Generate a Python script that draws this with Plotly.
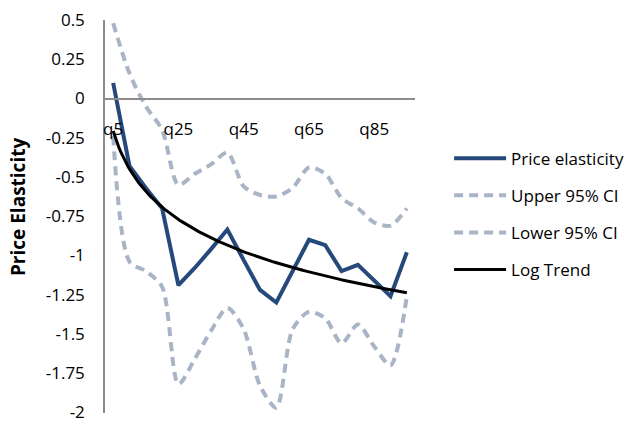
import numpy as np
import plotly.graph_objects as go

# Quantile categories along the x axis
quantiles = ["q5", "q10", "q15", "q20", "q25", "q30", "q35", "q40", "q45", "q50",
             "q55", "q60", "q65", "q70", "q75", "q80", "q85", "q90", "q95"]

# Estimated price elasticity per quantile and its 95% confidence bounds
price_elasticity = [0.10, -0.43, -0.57, -0.70, -1.19, -1.08, -0.96, -0.835, -1.03, -1.22,
                    -1.30, -1.10, -0.90, -0.935, -1.10, -1.06, -1.16, -1.26, -0.98]
upper_ci = [0.48, 0.16, -0.05, -0.20, -0.55, -0.48, -0.42, -0.345, -0.56, -0.615,
            -0.625, -0.57, -0.44, -0.48, -0.635, -0.70, -0.79, -0.81, -0.70]
lower_ci = [-0.24, -1.04, -1.10, -1.20, -1.82, -1.66, -1.48, -1.335, -1.47, -1.83,
            -1.97, -1.47, -1.36, -1.40, -1.56, -1.44, -1.58, -1.70, -1.26]

# Axis ticks
x_tick_labels = ["q5", "q25", "q45", "q65", "q85"]
y_tick_values = [0.5, 0.25, 0, -0.25, -0.5, -0.75, -1, -1.25, -1.5, -1.75, -2]
y_tick_labels = ["0.5", "0.25", "0", "-0.25", "-0.5", "-0.75", "-1", "-1.25", "-1.5", "-1.75", "-2"]

FONT = "Open Sans"
BLUE = "#24497A"
CI_GREY = "#A9B5C6"

pos = np.arange(1, len(quantiles) + 1)
x_tick_pos = [quantiles.index(q) + 1 for q in x_tick_labels]

# Logarithmic trend: least-squares fit of elasticity on ln(position)
slope, intercept = np.polyfit(np.log(pos), price_elasticity, 1)
trend_x = np.linspace(1, len(quantiles), 200)
trend_y = slope * np.log(trend_x) + intercept

ci_line = dict(color=CI_GREY, width=4, dash="9px,6px", shape="spline", smoothing=0.8)

fig = go.Figure()
fig.add_trace(go.Scatter(x=pos, y=price_elasticity, mode="lines", name="Price elasticity",
                         line=dict(color=BLUE, width=4), legendgroup="a"))
fig.add_trace(go.Scatter(x=pos, y=upper_ci, mode="lines", name="Upper 95% CI",
                         line=ci_line, legendgroup="b"))
fig.add_trace(go.Scatter(x=pos, y=lower_ci, mode="lines", name="Lower 95% CI",
                         line=ci_line, legendgroup="c"))
fig.add_trace(go.Scatter(x=trend_x, y=trend_y, mode="lines", name="Log Trend",
                         line=dict(color="black", width=3), legendgroup="d"))

fig.update_layout(
    width=629, height=423,
    margin=dict(l=105, r=214, t=20, b=10, autoexpand=False),
    paper_bgcolor="white", plot_bgcolor="white",
    font=dict(family=FONT, size=17, color="black"),
    showlegend=True,
    legend=dict(x=1.11, xanchor="left", y=0.506, yanchor="middle",
                font=dict(family=FONT, size=17), tracegroupgap=12,
                bgcolor="rgba(0,0,0,0)", itemwidth=52),
    xaxis=dict(range=[0.5, len(quantiles) + 0.5], tickmode="array",
               tickvals=x_tick_pos, ticktext=x_tick_labels, showgrid=False,
               zeroline=False, showline=True, linecolor="#8C8C8C", linewidth=1.5,
               anchor="free", position=0.8, ticks="", ticklabelstandoff=15,
               automargin=False, tickfont=dict(family=FONT, size=17)),
    yaxis=dict(range=[-2.004, 0.5], tickmode="array", tickvals=y_tick_values,
               ticktext=y_tick_labels, showgrid=False, zeroline=False,
               showline=True, linecolor="#8C8C8C", linewidth=1.5, ticks="",
               automargin=False, ticklabelstandoff=15, ticklabeloverflow="allow",
               tickfont=dict(family=FONT, size=17)),
    annotations=[dict(text="<b>Price Elasticity</b>", textangle=-90, xref="paper",
                      yref="paper", x=(18 - 105) / 310, y=0.524, showarrow=False,
                      xanchor="center", yanchor="middle",
                      font=dict(family=FONT, size=19, color="black"))],
)

fig.write_html("out.html")
